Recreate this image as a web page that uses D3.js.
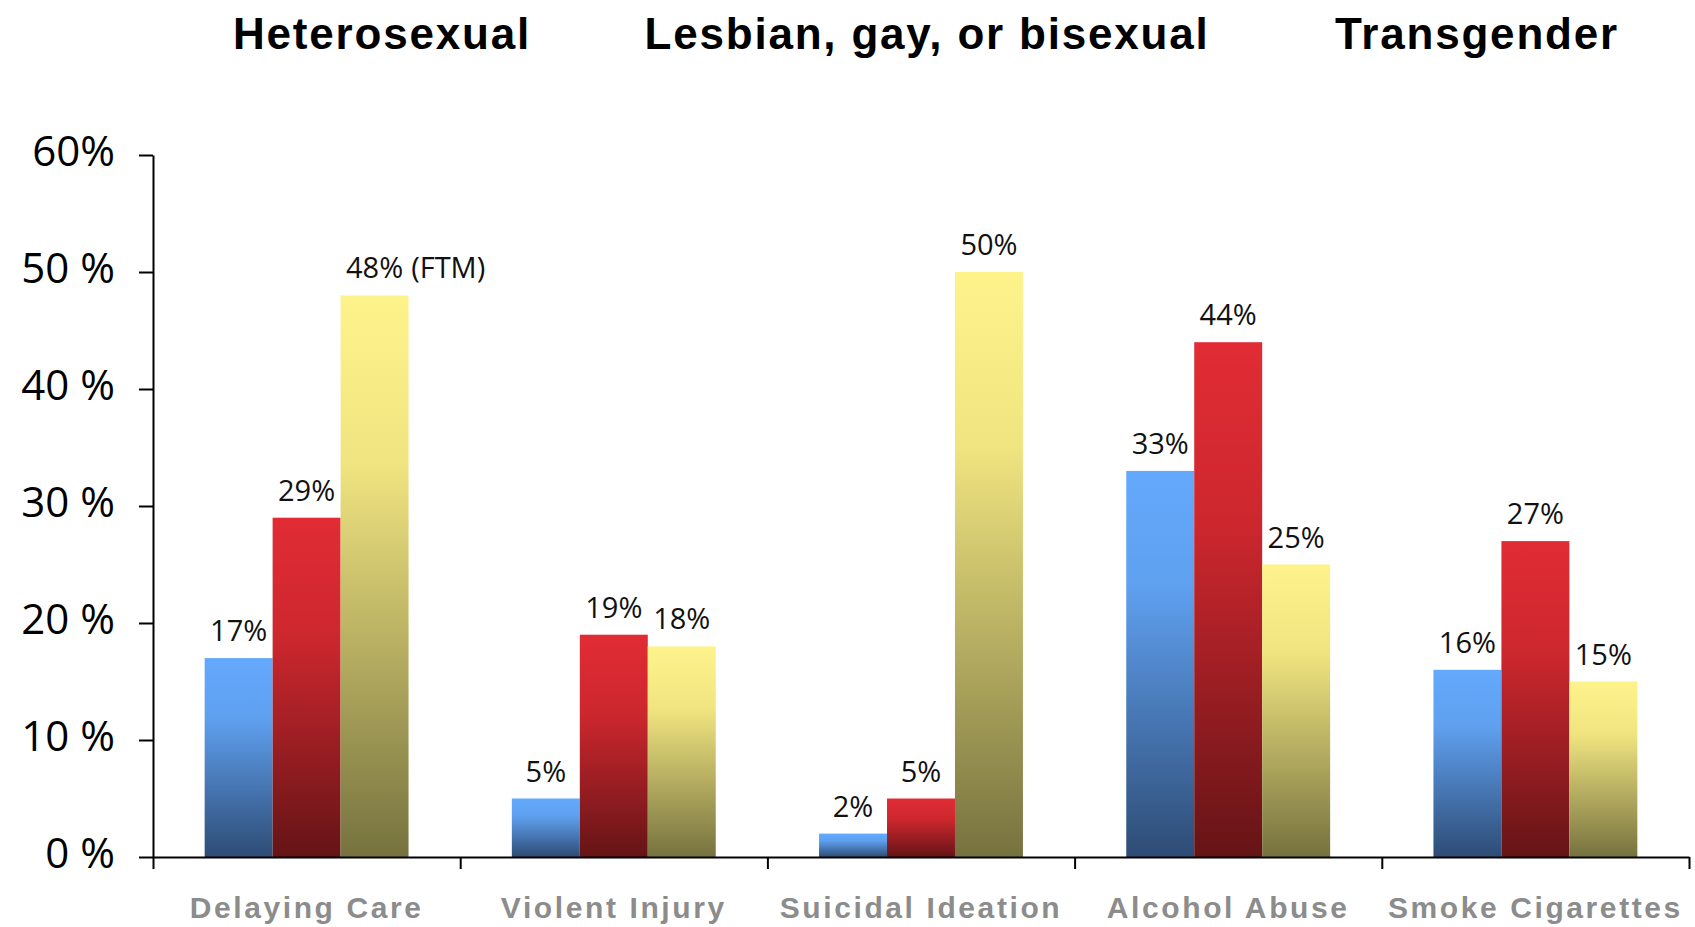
<!DOCTYPE html>
<html>
<head>
<meta charset="utf-8">
<script src="https://cdn.jsdelivr.net/npm/d3@7/dist/d3.min.js"></script>
<style>
	body { margin: 0; background: #fff; }
	svg { display: block; }
</style>
</head>
<body>
<div id="chart"></div>
<script>
var categories = ['Delaying Care', 'Violent Injury', 'Suicidal Ideation', 'Alcohol Abuse', 'Smoke Cigarettes'];
var groups = ['Heterosexual', 'Lesbian, gay, or bisexual', 'Transgender'];

var heterosexual = [17, 5, 2, 33, 16];
var lgb = [29, 19, 5, 44, 27];
var transgender = [48, 18, 50, 25, 15];
var transgenderNotes = ['(FTM)', '', '', '', ''];

var yTicks = [0, 10, 20, 30, 40, 50, 60];
var yTickLabels = ['0 %', '10 %', '20 %', '30 %', '40 %', '50 %', '60%'];

if(typeof(health) != 'function') {
	health = function() {
	}
}

health.bars = function() {
	this.width = 1695;
	this.height = 927;
	this.left = 153;
	this.right = 1689;
	this.top = 155;
	this.bottom = 857;

	// gradient stops per group, top to bottom
	this.gradients = [
		[['0%', '#64a9fd'], ['30%', '#5fa0ef'], ['100%', '#2e4c75']],
		[['0%', '#e12c34'], ['35%', '#cd272e'], ['100%', '#651416']],
		[['0%', '#fef38b'], ['30%', '#f0e480'], ['100%', '#76723f']]
	];

	// centre of each group heading
	this.titleX = [382, 927, 1477];

	this.valueFont = '29px';
	this.valueGap = 17;
}

health.bars.prototype.create = function(parent) {
	var self = this;

	var data = categories.map(function(c, i) {
		return {
			'category': c,
			'values': [
				{'group': 0, 'value': heterosexual[i], 'note': ''},
				{'group': 1, 'value': lgb[i], 'note': ''},
				{'group': 2, 'value': transgender[i], 'note': transgenderNotes[i]}
			]
		};
	});

	var svg = d3.select(parent).append('svg')
		.attr('width', this.width)
		.attr('height', this.height);

	var defs = svg.append('defs');
	this.gradients.forEach(function(stops, i) {
		var g = defs.append('linearGradient')
			.attr('id', 'grad' + i)
			.attr('x1', 0).attr('y1', 0)
			.attr('x2', 0).attr('y2', 1);
		stops.forEach(function(s) {
			g.append('stop')
				.attr('offset', s[0])
				.attr('stop-color', s[1]);
		});
	});

	var x0 = d3.scaleBand()
		.domain(categories)
		.range([this.left, this.right])
		.padding(0);

	var x1 = d3.scaleBand()
		.domain([0, 1, 2])
		.range([0, x0.bandwidth()])
		.paddingInner(0)
		.paddingOuter(0.76);

	var y = d3.scaleLinear()
		.domain([0, 60])
		.range([this.bottom, this.top]);

	// boundaries between categories
	var xEdges = d3.scaleLinear()
		.domain([0, categories.length])
		.range([this.left, this.right]);

	/*
	 * Group headings
	 */
	svg.selectAll('.title')
		.data(groups)
		.enter()
			.append('text')
				.attr('class', 'title')
				.attr('x', function(d, i) { return self.titleX[i]; })
				.attr('y', 49)
				.attr('text-anchor', 'middle')
				.style('font-family', '"Liberation Sans", Arial, sans-serif')
				.style('font-weight', 'bold')
				.style('font-size', '44px')
				.style('letter-spacing', '1.8px')
				.attr('fill', '#000')
				.text(function(d) { return d; });

	/*
	 * Bars
	 */
	var cat = svg.selectAll('.cat')
		.data(data)
		.enter()
			.append('g')
				.attr('class', 'cat')
				.attr('transform', function(d) {
					return 'translate(' + x0(d['category']) + ',0)';
				});

	cat.selectAll('rect')
		.data(function(d) { return d['values']; })
		.enter()
			.append('rect')
				.attr('x', function(d) { return x1(d['group']); })
				.attr('y', function(d) { return y(d['value']); })
				.attr('width', x1.bandwidth())
				.attr('height', function(d) { return y(0) - y(d['value']); })
				.attr('fill', function(d) { return 'url(#grad' + d['group'] + ')'; });

	var labels = cat.selectAll('.val')
		.data(function(d) { return d['values']; })
		.enter()
			.append('text')
				.attr('class', 'val')
				.attr('x', function(d) { return x1(d['group']) + x1.bandwidth() / 2; })
				.attr('y', function(d) { return y(d['value']) - self.valueGap; })
				.attr('text-anchor', 'middle')
				.style('font-family', '"Open Sans", "Noto Sans", sans-serif')
				.style('font-size', this.valueFont)
				.attr('fill', '#111')
				.text(function(d) { return d['value'] + '%'; });

	// notes run on after the centred value
	labels.each(function(d) {
		if(d['note'] == '') {
			return;
		}
		var box = this.getBBox();
		d3.select(this.parentNode).append('text')
			.attr('x', box.x + box.width + 8)
			.attr('y', y(d['value']) - self.valueGap)
			.style('font-family', '"Open Sans", "Noto Sans", sans-serif')
			.style('font-size', self.valueFont)
			.attr('fill', '#111')
			.text(d['note']);
	});

	/*
	 * Axes
	 */
	var yAxis = svg.append('g')
		.attr('transform', 'translate(' + this.left + ',0)')
		.call(d3.axisLeft(y)
			.tickValues(yTicks)
			.tickSize(14)
			.tickSizeOuter(0)
			.tickPadding(24)
			.tickFormat(function(d, i) { return yTickLabels[i]; }));

	yAxis.selectAll('text')
		.attr('dy', '0.25em')
		.attr('fill', '#000')
		.style('font-family', '"Open Sans", "Noto Sans", sans-serif')
		.style('font-size', '42px');

	var xAxis = svg.append('g')
		.attr('transform', 'translate(0,' + this.bottom + ')')
		.call(d3.axisBottom(xEdges)
			.ticks(categories.length)
			.tickSize(12)
			.tickSizeOuter(0)
			.tickFormat(''));

	svg.selectAll('.domain, .tick line')
		.attr('stroke', '#000')
		.attr('stroke-width', 2);

	svg.selectAll('.xlabel')
		.data(categories)
		.enter()
			.append('text')
				.attr('class', 'xlabel')
				.attr('x', function(d) { return x0(d) + x0.bandwidth() / 2; })
				.attr('y', 918)
				.attr('text-anchor', 'middle')
				.style('font-family', '"Liberation Sans", Arial, sans-serif')
				.style('font-weight', 'bold')
				.style('font-size', '30px')
				.style('letter-spacing', '2.6px')
				.attr('fill', '#8c8c8c')
				.text(function(d) { return d; });
}

var chart = new health.bars();
chart.create('#chart');
</script>
</body>
</html>
